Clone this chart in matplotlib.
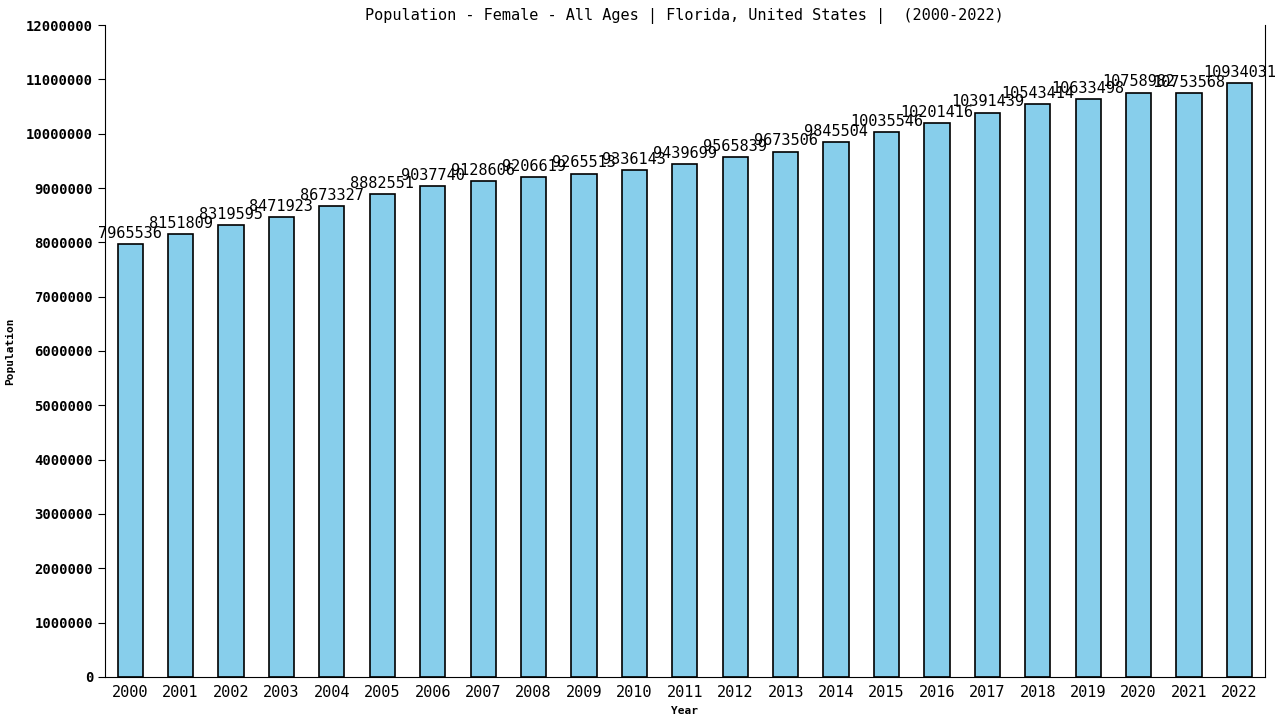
import matplotlib.pyplot as plt

years = [str(y) for y in range(2000, 2023)]
population = [7965536, 8151809, 8319595, 8471923, 8673327, 8882551, 9037740,
              9128606, 9206619, 9265513, 9336143, 9439699, 9565839, 9673506,
              9845504, 10035546, 10201416, 10391439, 10543414, 10633498,
              10758982, 10753568, 10934031]

plt.rcParams['font.family'] = ['DejaVu Sans Mono']

fig = plt.figure(figsize=(12.8, 7.2), dpi=100)
ax = fig.add_axes([0.082, 0.06, 0.906, 0.905])

x = range(len(years))
ax.bar(x, population, width=0.5, color='#87ceeb', edgecolor='black', linewidth=1.2)

# etiquetas de valor encima de cada barra
for i, v in enumerate(population):
    ax.text(i, v + 60000, str(v), ha='center', va='bottom', fontsize=11)

ax.set_xlim(-0.5, len(years) - 0.5)
ax.set_ylim(0, 12000000)
ax.set_yticks(range(0, 12000001, 1000000))
ax.set_yticklabels([str(t) for t in range(0, 12000001, 1000000)], fontsize=10, fontweight='bold')
ax.set_xticks(list(x))
ax.set_xticklabels(years, fontsize=11)
ax.tick_params(axis='x', length=0, pad=6)
ax.tick_params(axis='y', direction='out', length=5)
ax.spines['top'].set_visible(False)

ax.set_xlabel("Year", fontsize=8, fontweight='bold', labelpad=4)
ax.set_ylabel("Population", fontsize=8, fontweight='bold', labelpad=8)
ax.set_title("Population - Female - All Ages | Florida, United States |  (2000-2022)",
             fontsize=11, pad=4)

fig.savefig("out.png", dpi=100)
